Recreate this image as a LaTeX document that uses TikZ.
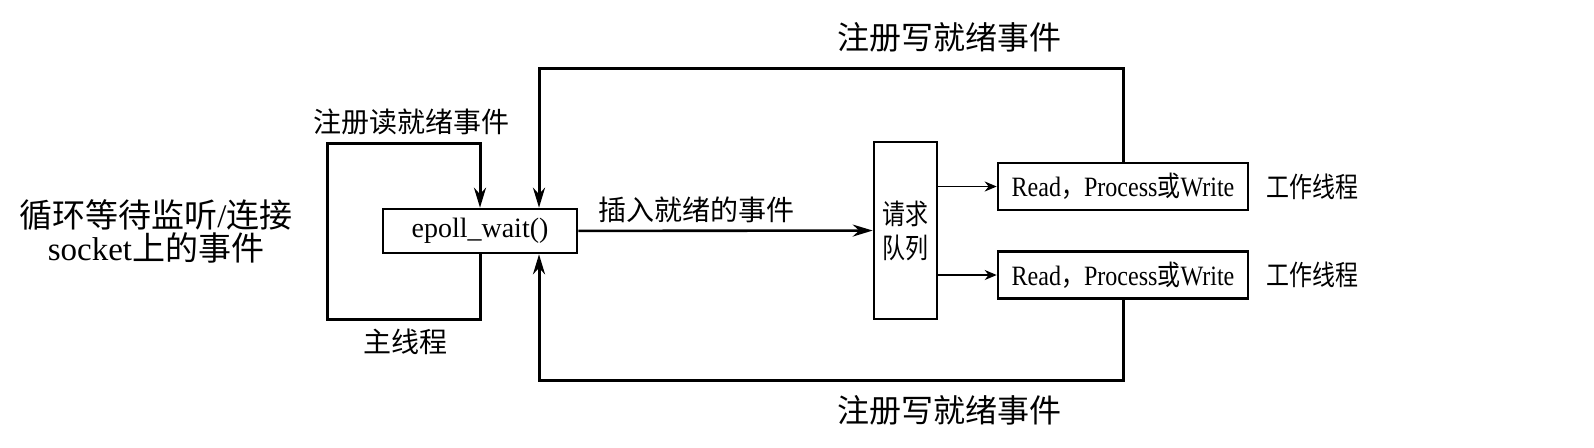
\documentclass[tikz,border=0pt]{standalone}
\usepackage{fontspec}
\setmainfont{Liberation Serif}
\newfontfamily\cjk{Noto Sans CJK SC}
\newfontfamily\cjkn[FakeStretch=0.82]{Noto Sans CJK SC}
\newfontfamily\rmn[FakeStretch=0.86]{Liberation Serif}
\usetikzlibrary{arrows.meta,positioning}

\begin{document}
\begin{tikzpicture}[
  x=0.5pt, y=-0.5pt,
  font=\fontsize{14}{16}\selectfont,
  zh/.style={font=\fontsize{14}{16}\selectfont\cjk},
  zhn/.style={font=\fontsize{14}{16}\selectfont\cjkn},
  box/.style={draw, line width=1.3pt, inner sep=0pt},
  wbox/.style={box, minimum width=125pt, minimum height=23.5pt,
    font=\fontsize{14}{16}\selectfont\rmn},
  loop/.style={line width=1.5pt, -{Stealth[length=10pt,width=6pt]}},
  thin/.style={line width=0.9pt, -{Stealth[length=6pt,width=5pt]}}]
\useasboundingbox (0,0) rectangle (1594,447);
% boxes
\node [box, minimum width=97pt, minimum height=22pt] (ep) at (480,231) {epoll\_wait()};
\node [box, zhn, minimum width=31.5pt, minimum height=88.5pt, align=center,
  font=\fontsize{14}{17}\selectfont\cjkn] (q) at (905.5,230.5) {请求\\队列};
\node [wbox] (w1) at (1123,186.5) {Read{\cjkn ，}Process{\cjkn 或}Write};
\node [wbox] (w2) at (1123,275) {Read{\cjkn ，}Process{\cjkn 或}Write};
\node [zhn, right=5pt of w1] (t1) {工作线程};
\node [zhn, right=5pt of w2] (t2) {工作线程};
% labels
\node [font=\fontsize{16}{18}\selectfont\cjk] (r1) at (949,37) {注册写就绪事件};
\node [font=\fontsize{16}{18}\selectfont\cjk] (r2) at (949,410) {注册写就绪事件};
\node [zh] (r3) at (411,122) {注册读就绪事件};
\node [zh] (m) at (405,342) {主线程};
\node [align=center, font=\fontsize{16.5}{16.5}\selectfont] (s) at (156,231)
  {{\cjk 循环等待监听}/{\cjk 连接}\\socket{\cjk 上的事件}};
% loops
\coordinate (a) at (327,143);
\coordinate (b) at (327,319);
\coordinate (c) at (539,68);
\coordinate (d) at (539,380);
\draw [loop] (ep.south) |- (b) -- (a) -| (ep.north);
\draw [loop] (w1.north) |- (c) -- (c |- ep.north);
\draw [loop] (w2.south) |- (d) -- (d |- ep.south);
\draw [loop, line width=1.3pt] (ep) -- (q) node [zh, pos=0.4, above] {插入就绪的事件};
\draw [thin] (q.east |- w1) -- (w1);
\draw [thin] (q.east |- w2) -- (w2);
\end{tikzpicture}
\end{document}
